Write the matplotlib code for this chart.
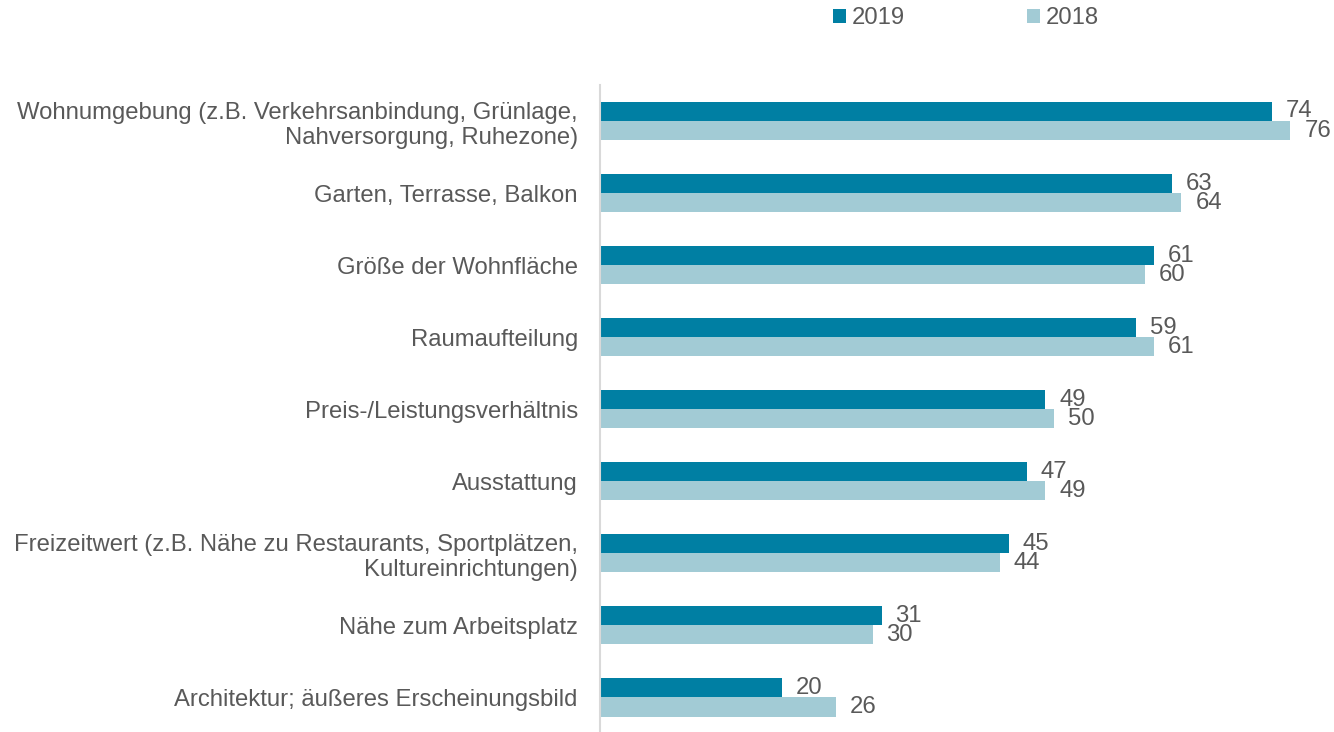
import matplotlib.pyplot as plt
import numpy as np

plt.rcParams['font.family'] = ['Liberation Sans', 'DejaVu Sans']

categories = [
    'Wohnumgebung (z.B. Verkehrsanbindung, Grünlage,\nNahversorgung, Ruhezone)',
    'Garten, Terrasse, Balkon',
    'Größe der Wohnfläche',
    'Raumaufteilung',
    'Preis-/Leistungsverhältnis',
    'Ausstattung',
    'Freizeitwert (z.B. Nähe zu Restaurants, Sportplätzen,\nKultureinrichtungen)',
    'Nähe zum Arbeitsplatz',
    'Architektur; äußeres Erscheinungsbild',
]
values_2019 = [74, 63, 61, 59, 49, 47, 45, 31, 20]
values_2018 = [76, 64, 60, 61, 50, 49, 44, 30, 26]

c2019 = '#007FA3'
c2018 = '#A2CBD5'
grey = '#595959'
fs = 17.2

fig = plt.figure(figsize=(13.34, 7.32), dpi=100)
ax = fig.add_axes([600 / 1334, 0, 1 - 600 / 1334, 1 - 85 / 732])

y = np.arange(len(categories))
h = 0.265
b1 = ax.barh(y - h / 2, values_2019, height=h, color=c2019, label='2019')
b2 = ax.barh(y + h / 2, values_2018, height=h, color=c2018, label='2018')

for bars in (b1, b2):
    for rect in bars:
        w = rect.get_width()
        ax.annotate(f'{w:g}', (w, rect.get_y() + rect.get_height() / 2),
                    xytext=(10, 0), textcoords='offset points',
                    va='center', ha='left', fontsize=fs, color=grey)

ax.set_xlim(0, 80.8)
ax.set_ylim(8.48, -0.5)
ax.set_yticks(y)
ax.set_yticklabels(categories, fontsize=fs, color=grey, multialignment='right',
                   linespacing=1.2)
ax.tick_params(axis='y', length=0, pad=16)
ax.set_xticks([])
for s in ['top', 'right', 'bottom']:
    ax.spines[s].set_visible(False)
ax.spines['left'].set_color('#D9D9D9')
ax.spines['left'].set_linewidth(1.5)

fig.legend(handles=[b1, b2], loc='center', bbox_to_anchor=(0.724, 0.975), ncol=2,
           frameon=False, fontsize=fs, handlelength=0.55, handleheight=0.55,
           handletextpad=0.25, columnspacing=5.1, labelcolor=grey)

fig.savefig('out.png', dpi=100)
